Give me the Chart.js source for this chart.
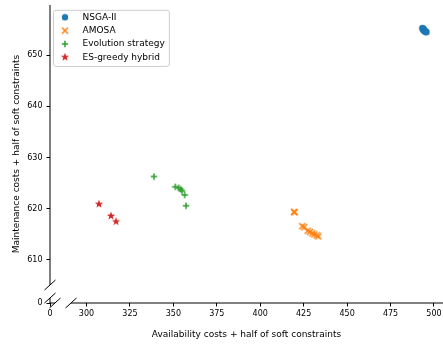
<!DOCTYPE html>
<html>
<head>
<meta charset="utf-8">
<script src="https://cdn.jsdelivr.net/npm/chart.js@4.4.1/dist/chart.umd.min.js"></script>
<style>
  html, body { margin: 0; padding: 0; background: #fff; }
  canvas { display: block; }
</style>
</head>
<body>
<canvas id="chart" width="443" height="344"></canvas>
<script>
// values
const seriesNames = ["NSGA-II", "AMOSA", "Evolution strategy", "ES-greedy hybrid"]

const nsgaX = [493.3, 493.5, 493.8, 494.0, 494.2, 494.3, 494.6, 495.0, 495.4, 495.7]
const nsgaY = [655.3, 655.1, 655.2, 654.9, 655.0, 654.8, 654.7, 654.6, 654.6, 654.5]

const amosaX = [419.4, 419.8, 424.2, 425.4, 427.3, 428.6, 430.0, 431.1, 432.5, 433.4]
const amosaY = [619.4, 619.3, 616.6, 616.4, 615.7, 615.5, 615.2, 615.0, 614.8, 614.6]

const esX = [338.8, 351.1, 353.0, 354.2, 355.0, 356.5, 357.3]
const esY = [626.3, 624.3, 624.1, 623.8, 623.5, 622.7, 620.6]

const hybridX = [307.2, 314.1, 317.0]
const hybridY = [620.9, 618.6, 617.5]

const xTicks = [300, 325, 350, 375, 400, 425, 450, 475, 500]
const yTicks = [610, 620, 630, 640, 650]
const breakLabel = "0"
const xRange = [279.0, 505.2]
const yRange = [601.6, 659.8]

const colors = ["#1f77b4", "#ff7f0e", "#2ca02c", "#d62728"]
const tickFont = { family: "'DejaVu Sans', sans-serif", size: 8, lineHeight: 1.2 }
const font = { family: "'DejaVu Sans', sans-serif", size: 9, lineHeight: 1.2 }

// matplotlib-like markers as small canvases (circle, x, plus, filled star)
function marker(kind, color) {
  const c = document.createElement("canvas")
  const s = kind === "star" ? 10 : 8
  c.width = s
  c.height = s
  const g = c.getContext("2d")
  const m = s / 2
  g.fillStyle = color
  g.strokeStyle = color
  g.lineWidth = 1.5
  g.beginPath()
  if (kind === "circle") {
    g.arc(m, m, 3.2, 0, Math.PI * 2)
    g.fill()
  } else if (kind === "x") {
    g.moveTo(m - 3, m - 3); g.lineTo(m + 3, m + 3)
    g.moveTo(m - 3, m + 3); g.lineTo(m + 3, m - 3)
    g.stroke()
  } else if (kind === "plus") {
    g.moveTo(m, m - 3.2); g.lineTo(m, m + 3.2)
    g.moveTo(m - 3.2, m); g.lineTo(m + 3.2, m)
    g.stroke()
  } else {
    for (let i = 0; i < 10; i++) {
      const r = i % 2 ? 1.8 : 4.4
      const a = -Math.PI / 2 + i * Math.PI / 5
      g.lineTo(m + r * Math.cos(a), m + r * Math.sin(a))
    }
    g.closePath()
    g.fill()
  }
  return c
}

const zip = (xs, ys) => xs.map((x, i) => ({ x, y: ys[i] }))
const styles = ["circle", "x", "plus", "star"]
const points = [zip(nsgaX, nsgaY), zip(amosaX, amosaY), zip(esX, esY), zip(hybridX, hybridY)]

const datasets = seriesNames.map((name, i) => ({
  label: name,
  data: points[i],
  pointStyle: marker(styles[i], colors[i]),
  pointRadius: 3,
  pointHoverRadius: 3,
  backgroundColor: colors[i],
  borderColor: colors[i],
  borderWidth: 0
}))

// no label overflow padding, the plot box is fixed
const noPadding = s => { s.paddingTop = s.paddingBottom = s.paddingLeft = s.paddingRight = 0 }

const axisBreaks = {
  id: "axisBreaks",
  afterLayout(chart) {
    const lg = chart.legend, a = chart.chartArea
    lg.left = a.left - 2.3
    lg.top = a.top + 3.5
    lg.right = a.right
    lg.bottom = a.bottom
  },
  beforeDraw(chart) {
    const boxes = chart.legend.legendHitBoxes
    if (!boxes || !boxes.length) return
    const { ctx } = chart
    const l = boxes[0].left + 1
    const t = boxes[0].top - 3
    const r = Math.max(...boxes.map(b => b.left + b.width)) + 4
    const last = boxes[boxes.length - 1]
    const b = last.top + last.height + 4.2
    ctx.save()
    ctx.beginPath()
    ctx.roundRect(l + 0.5, t + 0.5, r - l, b - t, 2.5)
    ctx.fillStyle = "rgba(255,255,255,0.8)"
    ctx.fill()
    ctx.strokeStyle = "#cccccc"
    ctx.lineWidth = 1
    ctx.stroke()
    ctx.restore()
  },
  afterDraw(chart) {
    const { ctx, chartArea: { left, right, top, bottom } } = chart
    const seg = (x1, y1, x2, y2) => { ctx.beginPath(); ctx.moveTo(x1, y1); ctx.lineTo(x2, y2); ctx.stroke() }
    const yGap = bottom - 18, yLow = bottom - 5, xLow = left + 5, xGap = left + 21
    ctx.save()
    ctx.strokeStyle = "#000"
    ctx.lineWidth = 1
    seg(left, top, left, yGap)
    seg(left, yLow, left, bottom)
    seg(left, bottom, xLow, bottom)
    seg(xGap, bottom, right, bottom)
    ;[[left, yGap], [left, yLow], [xLow, bottom], [xGap, bottom]].forEach(([x, y]) => seg(x - 5.5, y + 5, x + 5.5, y - 5))
    ctx.restore()
  }
}

new Chart(document.getElementById("chart"), {
  type: "scatter",
  data: { datasets },
  plugins: [axisBreaks],
  options: {
    responsive: false,
    animation: false,
    devicePixelRatio: 1,
    layout: { padding: { top: 5, left: 0, right: 0, bottom: 0 }, autoPadding: false },
    plugins: {
      tooltip: { enabled: false },
      legend: {
        position: "chartArea",
        align: "start",
        labels: { usePointStyle: true, pointStyleWidth: 26, padding: 4.3, color: "#000", font }
      }
    },
    scales: {
      x: {
        type: "linear",
        min: xRange[0],
        max: xRange[1],
        afterFit: s => { s.height = 41; noPadding(s) },
        afterBuildTicks: s => { s.ticks = [xRange[0], ...xTicks].map(value => ({ value })) },
        border: { display: false },
        grid: { drawOnChartArea: false, tickLength: 3.5, tickColor: "#000", tickWidth: 1 },
        ticks: { autoSkip: false, maxRotation: 0, padding: 2.5, color: "#000", font: tickFont,
                 callback: (v, i) => i === 0 ? breakLabel : v },
        title: { display: true, text: "Availability costs + half of soft constraints", color: "#000", font,
                 padding: { top: 0, bottom: 3.6 } }
      },
      y: {
        type: "linear",
        min: yRange[0],
        max: yRange[1],
        afterFit: s => { s.width = 50; noPadding(s) },
        afterBuildTicks: s => { s.ticks = [yRange[0], ...yTicks].map(value => ({ value })) },
        border: { display: false },
        grid: { drawOnChartArea: false, tickLength: 3.5, tickColor: "#000", tickWidth: 1 },
        ticks: { autoSkip: false, padding: 4, color: "#000", font: tickFont,
                 callback: (v, i) => i === 0 ? breakLabel : v },
        title: { display: true, text: "Maintenance costs + half of soft constraints", color: "#000", font,
                 padding: { top: 11.1, bottom: 0 } }
      }
    }
  }
})
</script>
</body>
</html>
